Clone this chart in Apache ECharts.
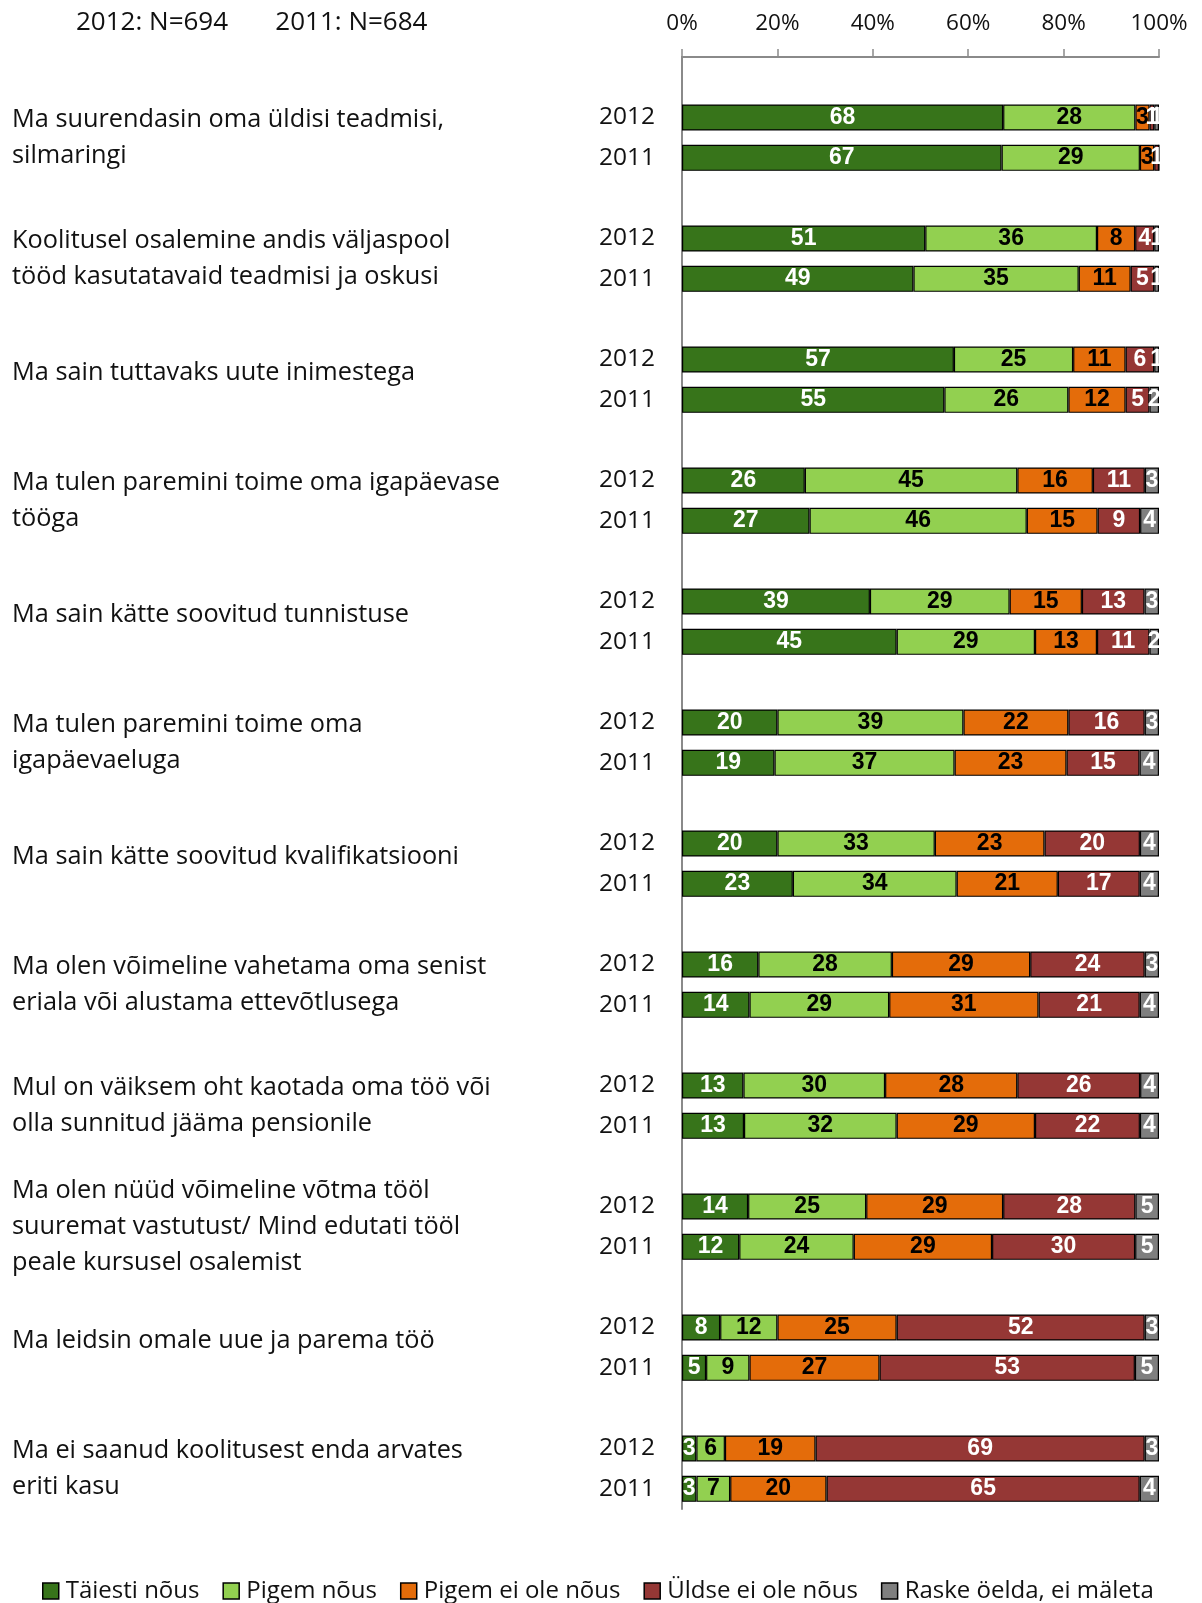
<!DOCTYPE html>
<html>
<head>
<meta charset="utf-8">
<script src="https://cdn.jsdelivr.net/npm/echarts@6/dist/echarts.min.js"></script>
<style>
	html, body { margin: 0; padding: 0; background: #fff; }
	#charts { width: 1202px; height: 1603px; }
</style>
</head>
<body>
<div id="charts"></div>
<script>
// statements, each one has a 2012 and a 2011 bar
const statements = [
	'Ma suurendasin oma üldisi teadmisi,\nsilmaringi',
	'Koolitusel osalemine andis väljaspool\ntööd kasutatavaid teadmisi ja oskusi',
	'Ma sain tuttavaks uute inimestega',
	'Ma tulen paremini toime oma igapäevase\ntööga',
	'Ma sain kätte soovitud tunnistuse',
	'Ma tulen paremini toime oma\nigapäevaeluga',
	'Ma sain kätte soovitud kvalifikatsiooni',
	'Ma olen võimeline vahetama oma senist\neriala või alustama ettevõtlusega',
	'Mul on väiksem oht kaotada oma töö või\nolla sunnitud jääma pensionile',
	'Ma olen nüüd võimeline võtma tööl\nsuuremat vastutust/ Mind edutati tööl\npeale kursusel osalemist',
	'Ma leidsin omale uue ja parema töö',
	'Ma ei saanud koolitusest enda arvates\neriti kasu'
]
const years = ['2012', '2011']
const xTicks = ['0%', '20%', '40%', '60%', '80%', '100%']
const sampleNote = '2012: N=694       2011: N=684'

// values per statement: [2012, 2011, 2012, 2011, ...]
const fullyAgree = [68, 67, 51, 49, 57, 55, 26, 27, 39, 45, 20, 19, 20, 23, 16, 14, 13, 13, 14, 12, 8, 5, 3, 3]
const ratherAgree = [28, 29, 36, 35, 25, 26, 45, 46, 29, 29, 39, 37, 33, 34, 28, 29, 30, 32, 25, 24, 12, 9, 6, 7]
const ratherDisagree = [3, 3, 8, 11, 11, 12, 16, 15, 15, 13, 22, 23, 23, 21, 29, 31, 28, 29, 29, 29, 25, 27, 19, 20]
const disagree = [1, 1, 4, 5, 6, 5, 11, 9, 13, 11, 16, 15, 20, 17, 24, 21, 26, 22, 28, 30, 52, 53, 69, 65]
const hardToSay = [1, 0, 1, 1, 1, 2, 3, 4, 3, 2, 3, 4, 4, 4, 3, 4, 4, 4, 5, 5, 3, 5, 3, 4]

const seriesDefs = [
	{ name: 'Täiesti nõus', values: fullyAgree, color: '#37741a', text: '#fff' },
	{ name: 'Pigem nõus', values: ratherAgree, color: '#92d050', text: '#000' },
	{ name: 'Pigem ei ole nõus', values: ratherDisagree, color: '#e46c0a', text: '#000' },
	{ name: 'Üldse ei ole nõus', values: disagree, color: '#953735', text: '#fff' },
	{ name: 'Raske öelda, ei mäleta', values: hardToSay, color: '#7f7f7f', text: '#fff' }
]

// three slots per statement: gap, 2012, 2011
const slots = []
statements.forEach((s, i) => {
	slots.push({ key: 'g' + i, label: '', bar: -1 })
	years.forEach((y, j) => {
		slots.push({ key: 'b' + i + '_' + y, label: y, bar: i * 2 + j })
	})
})

const rowSum = idx => seriesDefs.reduce((acc, d) => acc + d.values[idx], 0)

// one-line statements sit a bit above the middle of their pair
const statementLabel = v => {
	if (v % 3 !== 2) {
		return ''
	}
	const s = statements[(v - 2) / 3]
	return s.indexOf('\n') < 0 ? '{t|' + s + '}\n{pad|}' : s
}

const chart = echarts.init(document.getElementById('charts'))

const fontMain = '"Open Sans", "Noto Sans", sans-serif'

chart.setOption({
	animation: false,
	title: {
		text: sampleNote,
		left: 76,
		top: 10,
		padding: 0,
		textStyle: { fontFamily: fontMain, fontSize: 26, fontWeight: 'normal', color: '#111' }
	},
	grid: { left: 682, right: 43, top: 57, bottom: 94, containLabel: false, outerBoundsMode: 'none' },
	legend: {
		bottom: 0,
		left: 42,
		padding: 0,
		itemWidth: 16,
		itemHeight: 16,
		itemGap: 23,
		icon: 'rect',
		textStyle: { fontFamily: fontMain, fontSize: 24, color: '#111', padding: [0, 0, 0, 2] },
		data: seriesDefs.map(d => ({ name: d.name, itemStyle: { borderColor: '#000', borderWidth: 1.5 } }))
	},
	xAxis: {
		type: 'value',
		position: 'top',
		min: 0,
		max: 100,
		interval: 20,
		axisLine: { show: true, lineStyle: { color: '#8a8a8a', width: 2 } },
		axisTick: { show: true, length: 8, lineStyle: { color: '#8a8a8a', width: 1.5 } },
		splitLine: { show: false },
		axisLabel: {
			margin: 22,
			fontFamily: fontMain,
			fontSize: 22.5,
			color: '#111',
			formatter: v => xTicks[v / 20]
		}
	},
	yAxis: [
		{
			type: 'category',
			inverse: true,
			data: slots.map(s => s.key),
			axisLine: { show: true, lineStyle: { color: '#8a8a8a', width: 2 } },
			axisTick: { show: false },
			axisLabel: {
				margin: 27,
				interval: 0,
				fontFamily: fontMain,
				fontSize: 24.5,
				color: '#111',
				formatter: (v, i) => slots[i].label
			}
		},
		{
			type: 'value',
			inverse: true,
			position: 'left',
			min: 0,
			max: slots.length,
			interval: 1,
			axisLine: { show: false },
			axisTick: { show: false },
			splitLine: { show: false },
			axisLabel: {
				show: true,
				margin: 670,
				align: 'left',
				hideOverlap: false,
				fontFamily: fontMain,
				fontSize: 25.3,
				lineHeight: 36,
				color: '#111',
				formatter: statementLabel,
				rich: {
					t: { fontFamily: fontMain, fontSize: 25.3, lineHeight: 36, color: '#111' },
					pad: { lineHeight: 14, fontSize: 1 }
				}
			}
		}
	],
	series: seriesDefs.map(d => ({
		name: d.name,
		type: 'bar',
		stack: 'total',
		barWidth: 26,
		itemStyle: { color: d.color, borderColor: '#000', borderWidth: 1.2 },
		label: {
			show: true,
			position: 'inside',
			color: d.text,
			fontFamily: '"Liberation Sans", Arial, sans-serif',
			fontWeight: 'bold',
			fontSize: 23,
			formatter: p => (p.data.raw ? String(p.data.raw) : '')
		},
		data: slots.map(s => {
			if (s.bar < 0) {
				return '-'
			}
			const raw = d.values[s.bar]
			return { value: (raw / rowSum(s.bar)) * 100, raw: raw }
		})
	}))
})
</script>
</body>
</html>
